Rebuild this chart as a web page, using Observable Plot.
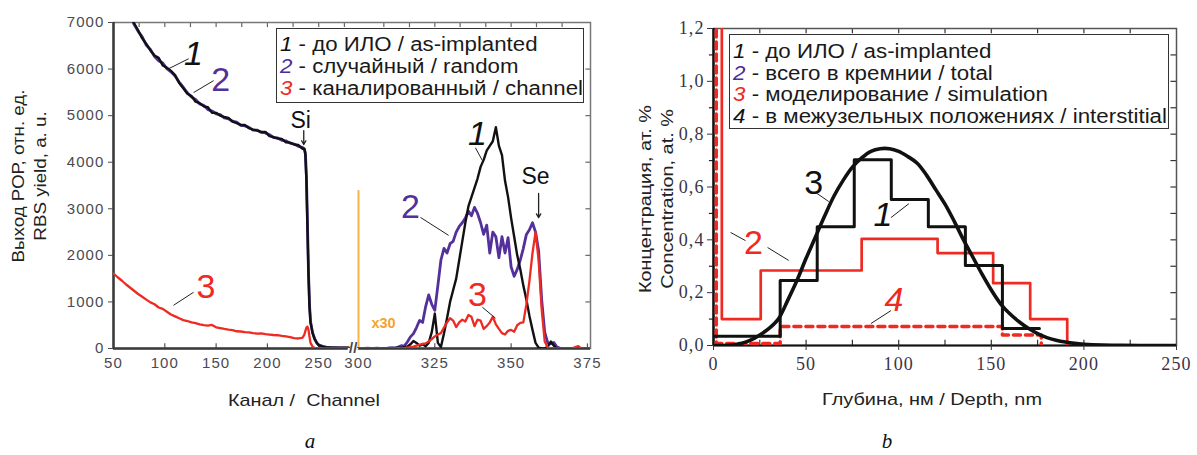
<!DOCTYPE html>
<html><head><meta charset="utf-8">
<script src="https://cdn.jsdelivr.net/npm/d3@7"></script>
<script src="https://cdn.jsdelivr.net/npm/@observablehq/plot@0.6"></script>
<style>
html,body{margin:0;padding:0;background:#fff;}
body{width:1197px;height:455px;position:relative;overflow:hidden;font-family:"Liberation Sans",Arial,sans-serif;color:#222;}
.abs{position:absolute;}
.ytitle{position:absolute;white-space:nowrap;text-align:center;font-size:17px;line-height:22px;color:#222;}
.xtitle{position:absolute;white-space:nowrap;font-size:17px;color:#222;}
.panel{position:absolute;transform:translate(-50%,-50%);font-family:"Liberation Serif",serif;font-style:italic;font-size:21px;color:#111;}
.legend{position:absolute;border:1.5px solid #333;background:#fff;box-sizing:border-box;font-size:19.5px;line-height:22px;padding:4px 0 0 3px;white-space:nowrap;color:#1a1a1a;}
.legend span{display:inline-block;transform-origin:0 50%;}
.legend i{font-style:italic;}
.pl g[aria-label="y-axis tick label"] text, .pl g[aria-label="x-axis tick label"] text{letter-spacing:1.1px;}
</style></head><body>
<div id="left" class="abs" style="left:0;top:0"></div>
<div id="right" class="abs" style="left:600px;top:0"></div>
<div id="ytL" class="ytitle" style="left:30px;top:176px">Выход РОР, отн. ед.<br>RBS yield, a. u.</div>
<div id="xtL" class="xtitle" style="left:304px;top:401px">Канал /&nbsp; Channel</div>
<div class="panel" style="left:310px;top:441px">a</div>
<div id="ytR" class="ytitle" style="left:657px;top:199px">Концентрация, ат. %<br>Concentration, at. %</div>
<div id="xtR" class="xtitle" style="left:932px;top:400px">Глубина, нм / Depth, nm</div>
<div class="panel" style="left:887px;top:441px">b</div>
<div id="legL" class="legend" style="left:276px;top:28px;width:308px;height:75px"></div>
<div id="legR" class="legend" style="left:729px;top:34px;width:440px;height:95px;padding-top:6px;line-height:21.5px"></div>
<script>
// ---------- Panel a: RBS spectra ----------
const chLeft = [50,54,58,62,66,70,74,78,82,86,90,94,98,102,106,110,114,118,122,126,130,134,138,142,146,150,154,158,162,166,170,174,178,182,186,190,194,198,202,206,210,214,218,222,226,230,234,236,237,238,239,240,241,242,244,246,248,250,254,258,262,266,270,274,279];
const blackLeft = [8300,7950,7620,7380,7160,6990,6830,6660,6540,6400,6290,6240,6080,6030,5960,5870,5700,5590,5470,5420,5300,5270,5200,5180,5060,5060,5000,4970,4950,4870,4840,4800,4800,4730,4700,4680,4650,4650,4560,4540,4510,4500,4430,4420,4380,4370,4290,4290,4150,3600,2600,1600,900,560,330,200,120,70,40,25,20,18,15,15,15];
const purpleLeft = [8280,7930,7650,7350,7180,6960,6810,6690,6510,6420,6270,6180,6130,6010,5940,5850,5720,5610,5490,5400,5350,5250,5220,5130,5100,5040,5020,4950,4930,4880,4860,4790,4780,4750,4690,4690,4640,4630,4590,4530,4520,4470,4460,4410,4390,4340,4320,4280,4200,3700,2700,1650,950,580,340,210,125,75,45,25,20,18,15,15,15];
const redLeft = [1610,1530,1460,1380,1310,1240,1170,1110,1050,990,950,880,850,790,730,690,650,610,590,560,545,520,500,490,505,455,440,420,405,395,370,365,350,345,330,320,325,310,300,290,285,270,260,245,225,215,230,300,380,450,470,400,250,120,40,10,0,0,0,0,0,0,0,0,0];
// channels 300..375, yield shown x30
const chRight = d3.range(300, 376);
const blackRight = [0,0,0,0,0,0,0,0,0,0,10,0,10,20,10,30,
  40,90,160,120,60,90,50,120,350,750,120,30,320,650,1000,1250,1500,1900,2300,2700,3050,3250,3450,3650,3900,4050,4250,4350,4450,4750,4350,4150,3600,3250,2800,2400,2000,1700,1350,1050,700,400,120,20,0,0,40,150,60,0,
  0,0,0,0,0,0,0,0,0,0];
const purpleRight = [0,0,0,10,0,0,10,0,0,0,
  10,20,10,30,60,50,140,250,320,450,600,560,900,1150,950,820,1350,1900,2150,2050,2250,2300,2500,2620,2700,2800,2950,2850,3030,2900,2700,2450,2650,2050,2500,2400,1950,2400,2050,2380,1750,1550,1700,1900,2150,2450,2550,2700,2500,2100,1050,350,120,100,130,30,10,
  0,0,0,0,0,0,0,0,0];
const redRight = [0,0,0,0,0,0,0,0,0,0,0,0,0,10,0,10,
  20,30,40,60,80,100,110,150,200,260,300,330,450,560,650,600,460,560,620,580,720,680,480,620,600,420,480,560,680,520,420,330,300,380,400,360,500,550,560,950,1450,2050,2500,1900,850,150,20,0,
  0,0,0,0,0,0,0,30,50,0,0,0];
const xTicksL = [50,100,150,200,250,300,325,350,375];
const yTicksL = [0,1000,2000,3000,4000,5000,6000,7000];
const topTicksL = [75,100,125,150,175,200,225,250,275,308.3,316.7,325,333.3,341.7,350,358.3,366.7];
const legendL = [["1","до ИЛО / as-implanted"],["2","случайный / random"],["3","каналированный / channel"]];
const labelsL = [
  {x:128,y:6330,t:"1",c:"black",it:true},{x:154.5,y:5760,t:"2",c:"purple",it:false},
  {x:140,y:1310,t:"3",c:"red",it:false},{x:339,y:4600,t:"1",c:"black",it:true},
  {x:317,y:3030,t:"2",c:"purple",it:false},{x:339,y:1140,t:"3",c:"red",it:false}];
const leadersL = [
  {x1:103.7,y1:6007,x2:123.2,y2:6221},{x1:128,y1:5495,x2:147.6,y2:5752},
  {x1:108.5,y1:928,x2:128,y2:1207},{x1:338.3,y1:4310,x2:340.6,y2:4034},
  {x1:320.3,y1:2815,x2:329.5,y2:2430},{x1:340.6,y1:885,x2:344.9,y2:650}];
const elementsL = [{x:232.4,y:4900,t:"Si"},{x:358,y:3680,t:"Se"}];
const arrowsL = [{x1:235.4,y1:4680,x2:235.4,y2:4380},{x1:359,y1:3330,x2:359,y2:2810}];

// ---------- Panel b: depth profiles ----------
const depth1 = [0,36,56,76,96,116,136,156,176];
const conc1 = [0.035,0.246,0.45,0.703,0.553,0.45,0.303,0.064,0.064];
const depth2 = [0,4.5,25.5,80,121,151,171,191];
const conc2 = [5,0.10,0.284,0.404,0.35,0.236,0.10,0];
const depth3 = [0,5,10,15,20,25,30,35,40,45,50,55,60,65,70,75,80,85,90,95,100,105,110,115,120,125,130,135,140,145,150,155,160,165,170,175,180,185,190,195,200,210,220,235,250];
const conc3 = [0,0,0.002,0.008,0.02,0.04,0.065,0.10,0.17,0.245,0.33,0.41,0.49,0.565,0.625,0.675,0.71,0.735,0.745,0.745,0.735,0.715,0.69,0.645,0.59,0.535,0.47,0.40,0.335,0.27,0.21,0.158,0.12,0.09,0.065,0.045,0.03,0.02,0.013,0.008,0.005,0.002,0.001,0,0];
const depth4 = [0,1.5,36,156,177];
const conc4 = [5,0.008,0.072,0.04,0];
const xTicksR = [0,50,100,150,200,250];
const xMinorR = [25,50,75,100,125,150,175,200,225];
const yTicksR = [0,0.2,0.4,0.6,0.8,1.0,1.2];
const yMinorR = [0.1,0.3,0.5,0.7,0.9,1.1];
const legendR = [["1","до ИЛО / as-implanted"],["2","всего в кремнии / total"],["3","моделирование / simulation"],["4","в межузельных положениях / interstitial"]];
const labelsR = [
  {x:54.1,y:0.613,t:"3",c:"black",it:false},{x:91.5,y:0.492,t:"1",c:"black",it:true},
  {x:21.6,y:0.386,t:"2",c:"red",it:false},{x:97.4,y:0.170,t:"4",c:"red",it:true}];
const leadersR = [
  {x1:55.2,y1:0.579,x2:62.2,y2:0.545},{x1:95.8,y1:0.484,x2:105.5,y2:0.537},
  {x1:9.2,y1:0.428,x2:17.3,y2:0.397},{x1:29.2,y1:0.371,x2:40.6,y2:0.322},
  {x1:85,y1:0.083,x2:95.8,y2:0.132}];

const COL = {black:"#111111", purple:"#53309c", red:"#ee2a22", orange:"#f7b347"};
const legendColL = ["#111","#4a2c9c","#ee2a22"];
const legendColR = ["#111","#4a2c9c","#ee2a22","#111"];

// legends (stretched horizontally to the reference box width)
function fillLegend(id, items, cols, target){
  const el = document.getElementById(id);
  const spans = items.map(([n,t],i)=>{
    const d = document.createElement("div");
    const s = document.createElement("span");
    s.innerHTML = `<i style="color:${cols[i]}">${n}</i> - ${t}`;
    d.appendChild(s); el.appendChild(d);
    return s;
  });
  const w = Math.max(...spans.map(s=>s.getBoundingClientRect().width));
  spans.forEach(s=>s.style.transform = `scaleX(${target/w})`);
}
fillLegend("legL", legendL, legendColL, 303);
fillLegend("legR", legendR, legendColR, 434);

// stretch titles to the reference widths
function fitTitle(id, target, rotate){
  const el = document.getElementById(id);
  const w = el.getBoundingClientRect().width;
  const k = target / w;
  el.style.transform = rotate ? `translate(-50%,-50%) rotate(-90deg) scaleX(${k})` : `translate(-50%,-50%) scaleX(${k})`;
}
fitTitle("xtL", 152, false);
fitTitle("xtR", 220, false);
fitTitle("ytL", 173, true);
fitTitle("ytR", 188, true);

const leftRows = chLeft.map((c,i)=>({c, b:blackLeft[i], p:purpleLeft[i], r:redLeft[i]}));
const rightRows = chRight.map((c,i)=>({c, b:blackRight[i], p:purpleRight[i], r:redRight[i]}));

const plotL = Plot.plot({
  width: 600, height: 380, className: "pl",
  marginLeft: 113, marginRight: 10, marginTop: 22, marginBottom: 32,
  x: {type:"linear", domain:[50,279,300,376], range:[113,348,358,590]},
  y: {domain:[0,7000]},
  style: {fontFamily:"'Liberation Sans', Arial, sans-serif", fontSize:"14px", color:"#4a4a52", background:"transparent", overflow:"visible"},
  marks: [
    Plot.ruleX(topTicksL, {y1:7000, y2:6890, stroke:"#666", strokeWidth:1.2}),
    Plot.ruleY(yTicksL.slice(1,-1), {x1:376, x2:374.5, stroke:"#666", strokeWidth:1.2}),
    Plot.ruleX(xTicksL.slice(1), {y1:0, y2:100, stroke:"#555", strokeWidth:1.2}),
    Plot.frame({stroke:"#777", strokeWidth:1.5}),
    Plot.ruleX([50], {stroke:"#3a3a3a", strokeWidth:2.5}),
    Plot.ruleY([0], {stroke:"#3a3a3a", strokeWidth:2.5}),
    Plot.axisY({ticks:yTicksL, tickSize:5, tickPadding:4, tickFormat:d=>String(d), fontSize:15}),
    Plot.axisX({ticks:xTicksL, tickSize:0, tickPadding:9, tickFormat:d=>String(d), fontSize:15}),
    Plot.text([{x:289,y:0,t:"//"}], {x:"x", y:"y", text:"t", fontSize:15, fontWeight:"bold", fill:"#444", stroke:"white", strokeWidth:4}),
    Plot.ruleX([300], {y1:0, y2:3390, stroke:COL.orange, strokeWidth:2}),
    Plot.text([{x:308.2,y:540,t:"x30"}], {x:"x", y:"y", text:"t", fontSize:14.5, fontWeight:"bold", fill:"#f4a230"}),
    Plot.line(leftRows, {x:"c", y:"p", stroke:COL.purple, strokeWidth:2.8, clip:true}),
    Plot.line(leftRows, {x:"c", y:"b", stroke:COL.black, strokeWidth:2.4, clip:true}),
    Plot.line(leftRows, {x:"c", y:"r", stroke:COL.red, strokeWidth:2.3, clip:true}),
    Plot.line(rightRows, {x:"c", y:"p", stroke:COL.purple, strokeWidth:2.8, clip:true}),
    Plot.line(rightRows, {x:"c", y:"b", stroke:COL.black, strokeWidth:2.4, clip:true}),
    Plot.line(rightRows, {x:"c", y:"r", stroke:COL.red, strokeWidth:2.3, clip:true}),
    Plot.link(leadersL, {x1:"x1", y1:"y1", x2:"x2", y2:"y2", stroke:"#222", strokeWidth:1}),
    Plot.text(labelsL.filter(d=>!d.it), {x:"x", y:"y", text:"t", fill:d=>COL[d.c], fontSize:34}),
    Plot.text(labelsL.filter(d=>d.it), {x:"x", y:"y", text:"t", fill:d=>COL[d.c], fontSize:34, fontStyle:"italic"}),
    Plot.text(elementsL, {x:"x", y:"y", text:"t", fill:"#111", fontSize:23}),
    Plot.arrow(arrowsL, {x1:"x1", y1:"y1", x2:"x2", y2:"y2", stroke:"#222", strokeWidth:1.3, headLength:5})
  ]
});
document.getElementById("left").appendChild(plotL);

const rows1 = depth1.map((d,i)=>({d, c:conc1[i]}));
const rows2 = depth2.map((d,i)=>({d, c:conc2[i]}));
const rows3 = depth3.map((d,i)=>({d, c:conc3[i]}));
const rows4 = depth4.map((d,i)=>({d, c:conc4[i]}));
const fmt = d => d.toFixed(1).replace(".", ",");

const plotR = Plot.plot({
  width: 597, height: 380, className: "pl",
  marginLeft: 113, marginRight: 21, marginTop: 28, marginBottom: 35,
  x: {domain:[0,250]},
  y: {domain:[0,1.2]},
  style: {fontFamily:"'Liberation Serif', serif", fontSize:"18px", color:"#3a3345", background:"transparent", overflow:"visible"},
  marks: [
    Plot.ruleX(xMinorR, {y1:1.2, y2:1.18, stroke:"#333", strokeWidth:1.2}),
    Plot.ruleX(xMinorR, {y1:0, y2:0.02, stroke:"#333", strokeWidth:1.2}),
    Plot.ruleY(yMinorR.concat(yTicksR.slice(1,-1)), {x1:250, x2:247, stroke:"#333", strokeWidth:1.2}),
    Plot.ruleY(yMinorR, {x1:-2.2, x2:0, stroke:"#222", strokeWidth:1.2}),
    Plot.frame({stroke:"#555", strokeWidth:1.5}),
    Plot.ruleX([0], {stroke:"#111", strokeWidth:2.5}),
    Plot.ruleY([0], {stroke:"#111", strokeWidth:2}),
    Plot.axisY({ticks:yTicksR, tickSize:6, tickPadding:3, tickFormat:fmt, fontSize:18}),
    Plot.axisX({ticks:xTicksR, tickSize:5, tickPadding:7, tickFormat:d=>String(d), fontSize:18}),
    Plot.line(rows2, {x:"d", y:"c", curve:"step-after", stroke:COL.red, strokeWidth:2.7, clip:true}),
    Plot.line(rows4, {x:"d", y:"c", curve:"step-after", stroke:COL.red, strokeWidth:3.5, strokeDasharray:"7,5", clip:true}),
    Plot.line(rows3, {x:"d", y:"c", curve:"catmull-rom", stroke:COL.black, strokeWidth:3.6, clip:true}),
    Plot.line(rows1, {x:"d", y:"c", curve:"step-after", stroke:COL.black, strokeWidth:3, clip:true}),
    Plot.link(leadersR, {x1:"x1", y1:"y1", x2:"x2", y2:"y2", stroke:"#222", strokeWidth:1}),
    Plot.text(labelsR.filter(d=>!d.it), {x:"x", y:"y", text:"t", fill:d=>COL[d.c], fontSize:34, fontFamily:"'Liberation Sans', Arial, sans-serif"}),
    Plot.text(labelsR.filter(d=>d.it), {x:"x", y:"y", text:"t", fill:d=>COL[d.c], fontSize:34, fontStyle:"italic", fontFamily:"'Liberation Sans', Arial, sans-serif"})
  ]
});
document.getElementById("right").appendChild(plotR);
</script>
</body></html>
